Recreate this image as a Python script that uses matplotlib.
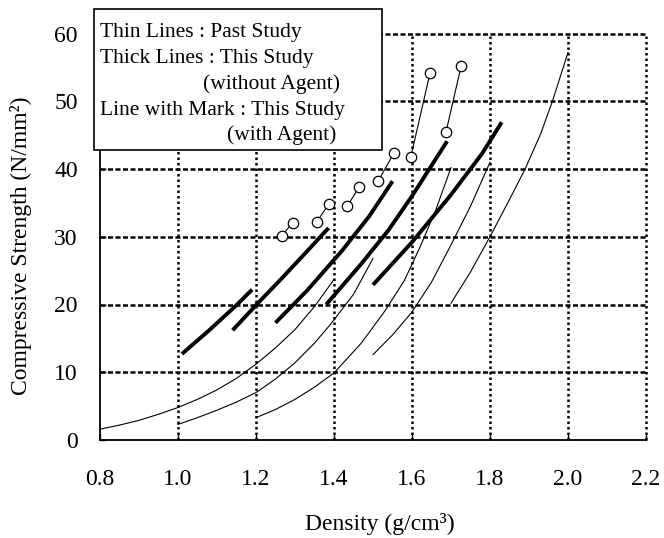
import matplotlib
matplotlib.use("Agg")
import matplotlib.pyplot as plt
from matplotlib.patches import Rectangle

plt.rcParams['font.family'] = ['Liberation Serif', 'DejaVu Serif']

# ---- data ----
x_ticks = [0.8, 1.0, 1.2, 1.4, 1.6, 1.8, 2.0, 2.2]
y_ticks = [0, 10, 20, 30, 40, 50, 60]

# thin lines: past study
thin1_x = [0.80, 0.85, 0.90, 0.95, 1.00, 1.05, 1.10, 1.15, 1.20, 1.25, 1.30, 1.35, 1.40]
thin1_y = [1.6, 2.2, 2.9, 3.8, 4.8, 6.0, 7.4, 9.1, 11.2, 13.6, 16.3, 19.7, 23.7]
thin2_x = [1.00, 1.05, 1.10, 1.15, 1.20, 1.25, 1.30, 1.35, 1.39, 1.45, 1.50]
thin2_y = [2.3, 3.3, 4.4, 5.6, 7.0, 9.0, 11.4, 14.3, 17.0, 21.5, 26.8]
thin3_x = [1.20, 1.25, 1.30, 1.35, 1.40, 1.47, 1.53, 1.58, 1.62, 1.66, 1.70]
thin3_y = [3.3, 4.5, 6.0, 7.8, 9.9, 14.3, 19.0, 23.5, 28.4, 33.8, 40.2]
thin4_x = [1.50, 1.55, 1.60, 1.65, 1.70, 1.75, 1.80]
thin4_y = [12.6, 15.5, 18.9, 23.3, 28.8, 34.5, 41.0]
thin5_x = [1.70, 1.75, 1.80, 1.85, 1.89, 1.93, 1.96, 2.00]
thin5_y = [20.2, 24.8, 30.0, 35.5, 40.0, 45.2, 50.0, 57.2]

# thick lines: this study (without agent)
thick1_x = [1.01, 1.08, 1.15, 1.19]
thick1_y = [12.7, 16.2, 19.9, 22.2]
thick2_x = [1.14, 1.20, 1.27, 1.33, 1.386]
thick2_y = [16.2, 19.9, 24.1, 27.8, 31.3]
thick3_x = [1.25, 1.33, 1.42, 1.49, 1.55]
thick3_y = [17.3, 22.0, 27.9, 33.0, 38.2]
thick4_x = [1.38, 1.47, 1.54, 1.60, 1.69]
thick4_y = [20.0, 26.0, 31.0, 36.0, 44.1]
thick5_x = [1.50, 1.60, 1.70, 1.78, 1.83]
thick5_y = [22.9, 29.2, 36.2, 42.3, 46.9]

# lines with mark: this study (with agent)
mark1_x = [1.266, 1.294]; mark1_y = [30.1, 32.1]
mark2_x = [1.356, 1.386]; mark2_y = [32.2, 34.8]
mark3_x = [1.434, 1.464]; mark3_y = [34.5, 37.3]
mark4_x = [1.514, 1.554]; mark4_y = [38.3, 42.4]
mark5_x = [1.597, 1.646]; mark5_y = [41.8, 54.1]
mark6_x = [1.687, 1.726]; mark6_y = [45.4, 55.2]

legend_lines = ["Thin Lines : Past Study",
                "Thick Lines : This Study",
                "(without Agent)",
                "Line with Mark : This Study",
                "(with Agent)"]

# ---- figure ----
W, H = 664, 538
fig = plt.figure(figsize=(W / 100, H / 100), dpi=100)
ax = fig.add_axes([100 / W, (H - 440) / H, 546 / W, 406.5 / H])
ax.set_xlim(0.8, 2.2)
ax.set_ylim(0, 60)

# grid (dotted, black)
for xv in x_ticks[1:]:
    ax.axvline(xv, color='black', lw=1.8, linestyle=(0, (1.0, 1.2)), clip_on=False, zorder=1)
for yv in y_ticks[1:]:
    ax.axhline(yv, color='black', lw=1.8, linestyle=(0, (2.0, 1.0)), clip_on=False, zorder=1)

thin = dict(color='black', lw=0.8, zorder=3)
for xs, ys in [(thin1_x, thin1_y), (thin2_x, thin2_y), (thin3_x, thin3_y),
               (thin4_x, thin4_y), (thin5_x, thin5_y)]:
    ax.plot(xs, ys, **thin)

thick = dict(color='black', lw=2.8, zorder=4, solid_capstyle='butt')
for xs, ys in [(thick1_x, thick1_y), (thick2_x, thick2_y), (thick3_x, thick3_y),
               (thick4_x, thick4_y), (thick5_x, thick5_y)]:
    ax.plot(xs, ys, **thick)

for xs, ys in [(mark1_x, mark1_y), (mark2_x, mark2_y), (mark3_x, mark3_y),
               (mark4_x, mark4_y), (mark5_x, mark5_y), (mark6_x, mark6_y)]:
    ax.plot(xs, ys, color='black', lw=0.8, marker='o', markersize=7.5,
            markerfacecolor='white', markeredgecolor='black', markeredgewidth=0.9,
            zorder=5, clip_on=False)

ax.spines['top'].set_visible(False)
ax.spines['right'].set_visible(False)
ax.spines['left'].set_linewidth(1.3)
ax.spines['bottom'].set_linewidth(1.3)

ax.set_xticks(x_ticks)
ax.set_xticklabels([f"{v:.1f}" for v in x_ticks])
ax.set_yticks(y_ticks)
ax.set_yticklabels([str(v) for v in y_ticks])
ax.tick_params(axis='both', direction='in', length=4, width=1.0, labelsize=17, colors='black')
ax.tick_params(axis='x', pad=21)
ax.tick_params(axis='y', pad=16)

fig.text(380 / W, 1 - 530 / H, "Density (g/cm³)", ha='center', va='baseline', fontsize=17)
fig.text(21 / W, 1 - 246 / H, "Compressive Strength (N/mm²)", ha='center', va='center',
         rotation=90, fontsize=17)

# legend box
box = Rectangle((94 / W, 1 - 150 / H), (382 - 94) / W, (150 - 9.3) / H,
                transform=fig.transFigure, facecolor='white', edgecolor='black',
                lw=1.2, zorder=10)
fig.add_artist(box)
text_pos = [(100, 37.5), (100, 63.5), (203, 89), (100, 114.5), (227, 140)]
for s, (px, py) in zip(legend_lines, text_pos):
    t = fig.text(px / W, 1 - py / H, s, ha='left', va='baseline', fontsize=15.5)
    t.set_zorder(11)

fig.savefig("out.png", dpi=100)
